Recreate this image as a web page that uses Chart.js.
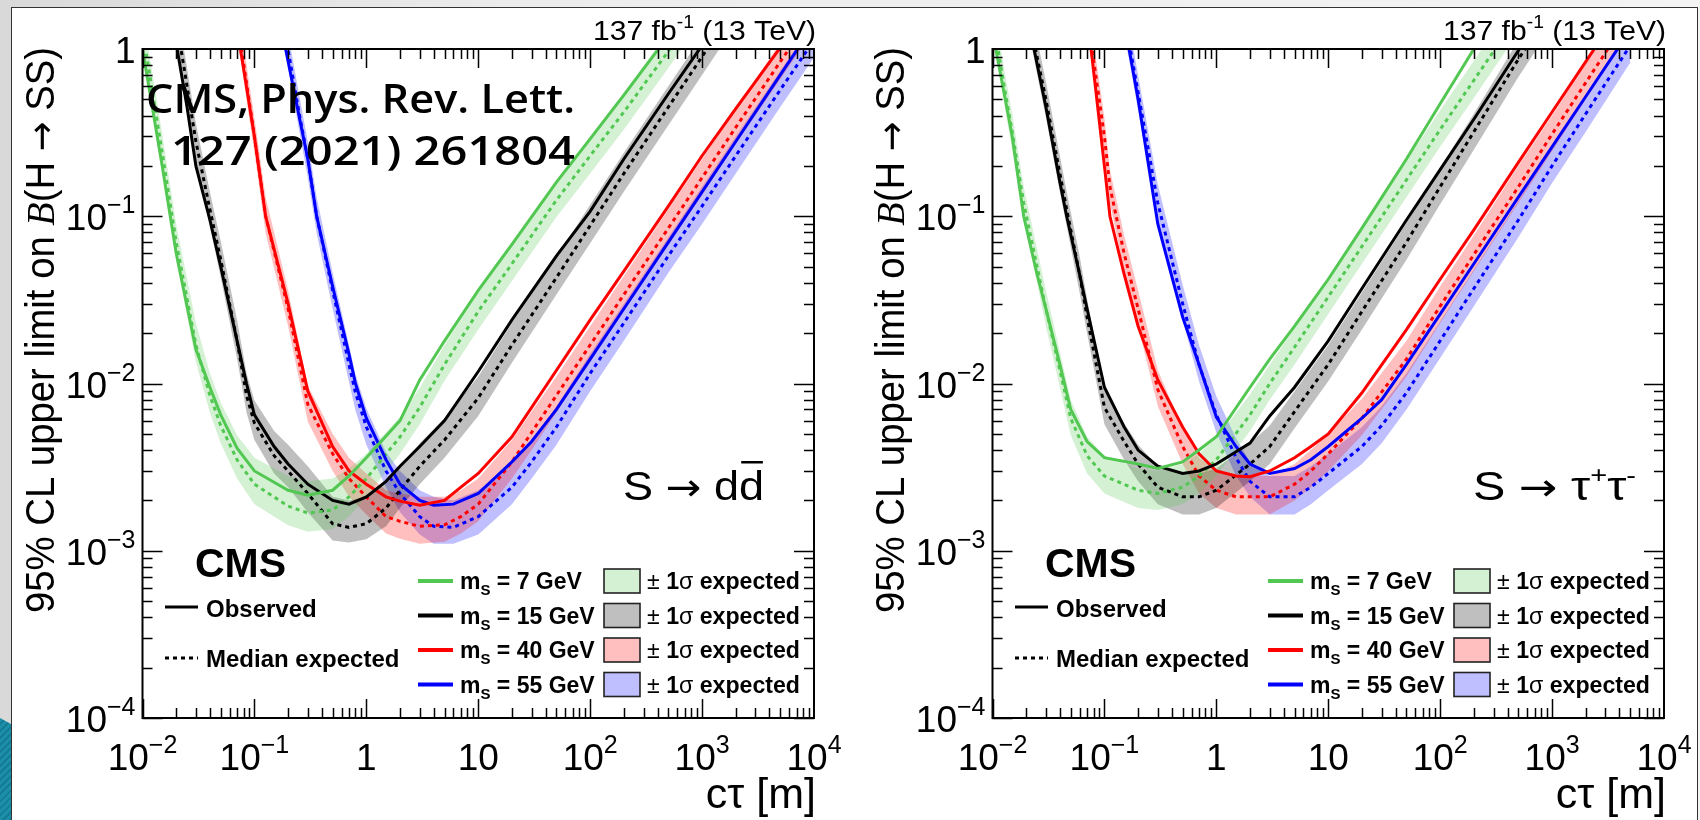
<!DOCTYPE html>
<html>
<head>
<meta charset="utf-8">
<script src="https://cdn.jsdelivr.net/npm/chart.js@4.4.1/dist/chart.umd.min.js"></script>
<style>
  html, body { margin: 0; padding: 0; }
  body { width: 1700px; height: 820px; overflow: hidden; position: relative;
         background: linear-gradient(90deg, #d9d9d9 0%, #ececec 30%, #f4f4f4 100%); }
  #slide { position: absolute; left: 11px; top: 7px; width: 1687px; height: 840px;
           background: #fff; border: 1.5px solid #333; box-sizing: border-box; }
  #deco { position: absolute; left: 0; top: 718px; width: 11px; height: 102px;
          background: repeating-linear-gradient(135deg, #1c8ea8 0 3px, #137b94 3px 5px);
          clip-path: polygon(0 0, 100% 6px, 100% 100%, 0 100%); }
  canvas { position: absolute; top: 0; }
  #left { left: 0; }
  #right { left: 850px; }
</style>
</head>
<body>
<div id="slide"></div>
<div id="deco"></div>
<canvas id="left" width="850" height="820"></canvas>
<canvas id="right" width="850" height="820"></canvas>
<script>
const SANS = '"Liberation Sans", Arial, Helvetica, sans-serif';
const ARROW = '"DejaVu Sans", sans-serif';

// axis ticks
const xTicks = [0.01, 0.1, 1, 10, 100, 1000, 10000];
const xTickText = [['10', '−2'], ['10', '−1'], ['1', ''], ['10', ''], ['10', '2'], ['10', '3'], ['10', '4']];
const yTicks = [1, 0.1, 0.01, 0.001, 0.0001];
const yTickText = [['1', ''], ['10', '−1'], ['10', '−2'], ['10', '−3'], ['10', '−4']];

const masses = ['7', '15', '40', '55'];
const lineColors = ['#52c852', '#000000', '#ff0000', '#0000ff'];
const bandColors = ['rgba(82,200,82,0.25)', 'rgba(0,0,0,0.25)', 'rgba(255,0,0,0.25)', 'rgba(0,0,255,0.25)'];

// rows: [c*tau (m), observed, median expected, -1 sigma, +1 sigma]
// S -> d dbar
const dd_m7 = [
  [0.01, 1.0, 1.3, 1.0, 1.7], [0.015, 0.2, 0.24, 0.19, 0.31], [0.02, 0.06, 0.07, 0.055, 0.09],
  [0.03, 0.016, 0.017, 0.0135, 0.023], [0.04, 0.0095, 0.0085, 0.0067, 0.0115],
  [0.05, 0.0065, 0.0056, 0.0044, 0.0077], [0.07, 0.0041, 0.0035, 0.0027, 0.0049],
  [0.1, 0.003, 0.0025, 0.0019, 0.0036], [0.2, 0.0023, 0.00185, 0.00142, 0.0028],
  [0.3, 0.00215, 0.00168, 0.0013, 0.0026], [0.5, 0.0023, 0.00175, 0.00135, 0.0027],
  [0.7, 0.0028, 0.0021, 0.0016, 0.0031], [1, 0.0036, 0.0027, 0.0021, 0.0038],
  [2, 0.006, 0.0048, 0.0038, 0.0063], [3, 0.0105, 0.0072, 0.0057, 0.0094],
  [5, 0.018, 0.013, 0.0104, 0.017], [10, 0.036, 0.027, 0.021, 0.035],
  [20, 0.068, 0.052, 0.041, 0.067], [50, 0.16, 0.125, 0.099, 0.162],
  [100, 0.29, 0.23, 0.18, 0.3], [200, 0.53, 0.42, 0.33, 0.55],
  [500, 1.2, 0.97, 0.77, 1.26], [1000, 2.3, 1.9, 1.5, 2.5]
];
const dd_m15 = [
  [0.02, 1.08, 1.5, 1.2, 1.9], [0.025, 0.45, 0.6, 0.48, 0.77], [0.03, 0.2, 0.28, 0.22, 0.36],
  [0.04, 0.095, 0.11, 0.087, 0.14], [0.05, 0.05, 0.055, 0.043, 0.071],
  [0.07, 0.018, 0.018, 0.014, 0.024], [0.085, 0.01, 0.0085, 0.0067, 0.0115],
  [0.1, 0.0065, 0.0058, 0.0046, 0.0079], [0.15, 0.0042, 0.0037, 0.0029, 0.0052],
  [0.2, 0.0033, 0.003, 0.0024, 0.0043], [0.3, 0.0025, 0.0022, 0.0017, 0.0032],
  [0.5, 0.002, 0.00145, 0.00115, 0.0021], [0.7, 0.0019, 0.00138, 0.00112, 0.002],
  [1, 0.0021, 0.00145, 0.00117, 0.0021], [1.5, 0.0026, 0.0018, 0.0014, 0.0026],
  [2, 0.0032, 0.0023, 0.0018, 0.0032], [3, 0.0042, 0.0032, 0.0025, 0.0044],
  [5, 0.006, 0.0046, 0.0036, 0.0062], [10, 0.0118, 0.0082, 0.0064, 0.011],
  [20, 0.024, 0.017, 0.0133, 0.023], [50, 0.058, 0.043, 0.034, 0.057],
  [100, 0.107, 0.088, 0.069, 0.117], [200, 0.22, 0.18, 0.14, 0.24],
  [500, 0.54, 0.45, 0.35, 0.6], [1000, 1.05, 0.9, 0.7, 1.2], [2000, 2.1, 1.8, 1.4, 2.4]
];
const dd_m40 = [
  [0.07, 1.3, 1.4, 1.1, 1.8], [0.075, 1.0, 1.1, 0.87, 1.4], [0.1, 0.3, 0.3, 0.24, 0.39],
  [0.126, 0.1, 0.1, 0.079, 0.13], [0.2, 0.03, 0.028, 0.022, 0.036],
  [0.3, 0.009, 0.0075, 0.0059, 0.0097], [0.5, 0.0042, 0.0038, 0.003, 0.005],
  [0.7, 0.003, 0.0027, 0.0021, 0.0036], [1, 0.0025, 0.0021, 0.00165, 0.0029],
  [1.5, 0.0021, 0.0016, 0.00127, 0.0023], [2, 0.00198, 0.0015, 0.00118, 0.0022],
  [3, 0.00187, 0.0014, 0.0011, 0.0021], [5, 0.002, 0.00143, 0.00113, 0.0021],
  [7, 0.0024, 0.0016, 0.00127, 0.0023], [10, 0.0029, 0.0019, 0.0015, 0.0027],
  [20, 0.0048, 0.0034, 0.0027, 0.0046], [30, 0.0072, 0.0051, 0.004, 0.0068],
  [50, 0.012, 0.0085, 0.0067, 0.011], [100, 0.024, 0.017, 0.0134, 0.022],
  [200, 0.047, 0.034, 0.027, 0.044], [500, 0.115, 0.085, 0.067, 0.11],
  [1000, 0.23, 0.17, 0.134, 0.22], [2000, 0.44, 0.34, 0.27, 0.44],
  [5000, 1.02, 0.84, 0.66, 1.09], [10000, 2.0, 1.65, 1.3, 2.15]
];
const dd_m55 = [
  [0.18, 1.3, 1.5, 1.2, 1.9], [0.19, 1.0, 1.2, 0.95, 1.5], [0.25, 0.4, 0.42, 0.33, 0.54],
  [0.3, 0.22, 0.22, 0.17, 0.28], [0.36, 0.1, 0.1, 0.079, 0.13],
  [0.5, 0.038, 0.036, 0.028, 0.046], [0.7, 0.015, 0.013, 0.0102, 0.017],
  [0.8, 0.01, 0.0088, 0.0069, 0.0113], [1, 0.0062, 0.0055, 0.0043, 0.0071],
  [1.5, 0.0035, 0.003, 0.0024, 0.0039], [2, 0.0025, 0.0022, 0.0017, 0.003],
  [3, 0.002, 0.0016, 0.00125, 0.0023], [4, 0.00187, 0.0014, 0.0011, 0.0021],
  [6, 0.0019, 0.00138, 0.0011, 0.002], [10, 0.0022, 0.0016, 0.00125, 0.0023],
  [20, 0.0034, 0.0024, 0.0019, 0.0033], [30, 0.0045, 0.0034, 0.0027, 0.0046],
  [50, 0.007, 0.0055, 0.0043, 0.0073], [100, 0.014, 0.0115, 0.009, 0.015],
  [200, 0.028, 0.023, 0.018, 0.03], [500, 0.07, 0.058, 0.046, 0.075],
  [1000, 0.14, 0.115, 0.09, 0.15], [2000, 0.28, 0.23, 0.18, 0.3],
  [5000, 0.7, 0.57, 0.45, 0.74], [10000, 1.4, 1.13, 0.89, 1.47]
];

// S -> tau+ tau-
const tt_m7 = [
  [0.01, 1.3, 1.5, 1.2, 1.9], [0.0107, 1.0, 1.2, 0.95, 1.5], [0.013, 0.5, 0.55, 0.43, 0.7],
  [0.015, 0.3, 0.32, 0.25, 0.41], [0.019, 0.1, 0.12, 0.095, 0.15],
  [0.025, 0.045, 0.05, 0.04, 0.064], [0.03, 0.028, 0.028, 0.022, 0.036],
  [0.04, 0.013, 0.012, 0.0095, 0.0155], [0.05, 0.007, 0.0062, 0.0049, 0.008],
  [0.07, 0.0045, 0.0037, 0.0029, 0.0048], [0.1, 0.0036, 0.0028, 0.0022, 0.0037],
  [0.2, 0.0033, 0.0023, 0.0018, 0.0031], [0.3, 0.0031, 0.0022, 0.00175, 0.003],
  [0.5, 0.0034, 0.0024, 0.0019, 0.0033], [0.7, 0.004, 0.0028, 0.0022, 0.0038],
  [1, 0.0048, 0.0035, 0.0028, 0.0047], [2, 0.0095, 0.0065, 0.0052, 0.0086],
  [3, 0.014, 0.01, 0.008, 0.013], [5, 0.022, 0.0165, 0.013, 0.0215],
  [10, 0.042, 0.033, 0.026, 0.043], [20, 0.085, 0.066, 0.052, 0.086],
  [50, 0.22, 0.165, 0.13, 0.215], [100, 0.47, 0.33, 0.26, 0.43],
  [200, 1.0, 0.65, 0.51, 0.85], [500, 2.5, 1.6, 1.26, 2.1]
];
const tt_m15 = [
  [0.022, 1.3, 1.4, 1.1, 1.8], [0.0235, 1.0, 1.1, 0.87, 1.4], [0.03, 0.45, 0.5, 0.39, 0.64],
  [0.04, 0.16, 0.18, 0.14, 0.23], [0.046, 0.1, 0.11, 0.087, 0.14],
  [0.06, 0.045, 0.045, 0.035, 0.058], [0.07, 0.028, 0.025, 0.02, 0.032],
  [0.1, 0.0095, 0.0072, 0.0057, 0.0093], [0.15, 0.0055, 0.0045, 0.0035, 0.0058],
  [0.2, 0.004, 0.0033, 0.0026, 0.0043], [0.3, 0.0032, 0.0024, 0.0019, 0.0032],
  [0.5, 0.0029, 0.0021, 0.00165, 0.0029], [0.7, 0.003, 0.0021, 0.00165, 0.0029],
  [1, 0.0033, 0.0023, 0.0018, 0.0031], [2, 0.0044, 0.0033, 0.0026, 0.0044],
  [3, 0.0064, 0.0042, 0.0033, 0.0056], [5, 0.0095, 0.0068, 0.0054, 0.009],
  [10, 0.018, 0.013, 0.0103, 0.017], [20, 0.037, 0.027, 0.021, 0.035],
  [50, 0.095, 0.07, 0.055, 0.091], [100, 0.19, 0.15, 0.118, 0.195],
  [200, 0.38, 0.32, 0.25, 0.41], [500, 0.98, 0.87, 0.68, 1.13], [1000, 2.0, 1.75, 1.38, 2.3]
];
const tt_m40 = [
  [0.07, 1.4, 1.5, 1.2, 1.9], [0.076, 1.0, 1.1, 0.87, 1.4], [0.1, 0.2, 0.3, 0.24, 0.39],
  [0.112, 0.1, 0.15, 0.12, 0.19], [0.15, 0.045, 0.06, 0.047, 0.077],
  [0.2, 0.022, 0.028, 0.022, 0.036], [0.3, 0.0105, 0.0092, 0.0073, 0.012],
  [0.5, 0.0055, 0.0042, 0.0033, 0.0054], [0.7, 0.0038, 0.0028, 0.0022, 0.0036],
  [1, 0.003, 0.0023, 0.0018, 0.003], [1.5, 0.0028, 0.0021, 0.00165, 0.0028],
  [2, 0.00277, 0.0021, 0.00165, 0.0028], [3, 0.003, 0.0021, 0.00165, 0.0028],
  [5, 0.0036, 0.0025, 0.002, 0.0033], [7, 0.0042, 0.003, 0.0024, 0.004],
  [10, 0.005, 0.0038, 0.003, 0.005], [20, 0.0088, 0.0062, 0.0049, 0.0081],
  [50, 0.021, 0.014, 0.011, 0.018], [100, 0.042, 0.029, 0.023, 0.038],
  [200, 0.083, 0.059, 0.047, 0.077], [500, 0.21, 0.15, 0.12, 0.2],
  [1000, 0.42, 0.31, 0.245, 0.4], [2000, 0.84, 0.63, 0.5, 0.82], [5000, 2.1, 1.6, 1.26, 2.1]
];
const tt_m55 = [
  [0.15, 1.4, 1.5, 1.2, 1.9], [0.166, 1.0, 1.1, 0.87, 1.4], [0.2, 0.5, 0.55, 0.43, 0.7],
  [0.3, 0.09, 0.12, 0.095, 0.155], [0.5, 0.025, 0.03, 0.024, 0.039],
  [0.7, 0.013, 0.013, 0.0103, 0.017], [1, 0.0063, 0.0065, 0.0051, 0.0084],
  [1.5, 0.0042, 0.0036, 0.0028, 0.0047], [2, 0.0033, 0.0026, 0.0021, 0.0034],
  [3, 0.0029, 0.0021, 0.00165, 0.0028], [5, 0.0031, 0.0021, 0.00165, 0.0028],
  [7, 0.0035, 0.0024, 0.0019, 0.0032], [10, 0.0042, 0.0029, 0.0023, 0.0038],
  [20, 0.0062, 0.0042, 0.0033, 0.0055], [30, 0.008, 0.0056, 0.0044, 0.0073],
  [50, 0.013, 0.0088, 0.007, 0.0115], [100, 0.026, 0.018, 0.0142, 0.0235],
  [200, 0.052, 0.037, 0.029, 0.048], [500, 0.13, 0.095, 0.075, 0.124],
  [1000, 0.26, 0.2, 0.158, 0.26], [2000, 0.52, 0.41, 0.32, 0.53], [5000, 1.3, 1.05, 0.83, 1.37]
];

// draw a row of text pieces (for superscripts / subscripts), optionally squeezed to a width
function runsWidth(ctx, runs) {
  let w = 0;
  for (const r of runs) { ctx.font = r.font; w += ctx.measureText(r.text).width; }
  return w;
}
function drawRuns(ctx, runs, x, y, align, fitWidth) {
  const w = runsWidth(ctx, runs);
  const s = fitWidth ? fitWidth / w : 1;
  let x0 = x;
  if (align === 'right') x0 = x - w * s;
  else if (align === 'center') x0 = x - w * s / 2;
  ctx.save();
  ctx.translate(x0, y);
  ctx.scale(s, 1);
  ctx.textAlign = 'left';
  ctx.textBaseline = 'alphabetic';
  let cx = 0;
  for (const r of runs) {
    ctx.font = r.font;
    ctx.fillStyle = '#000';
    ctx.fillText(r.text, cx, r.dy || 0);
    const tw = ctx.measureText(r.text).width;
    if (r.over) ctx.fillRect(cx + 2, r.over, tw - 3, 2.5);
    cx += tw;
  }
  ctx.restore();
}

const rootFrame = {
  id: 'rootFrame',
  afterDraw(chart, args, opts) {
    const ctx = chart.ctx, a = chart.chartArea;
    const xs = chart.scales.x, ys = chart.scales.y;
    ctx.save();

    // ticks on all four sides
    ctx.strokeStyle = '#000';
    ctx.lineWidth = 1.5;
    ctx.beginPath();
    for (let e = -2; e < 4; e++) {
      for (let k = 1; k <= 9; k++) {
        const px = Math.round(xs.getPixelForValue(k * Math.pow(10, e))) + 0.5;
        const len = k === 1 ? 19 : 10;
        ctx.moveTo(px, a.bottom); ctx.lineTo(px, a.bottom - len);
        ctx.moveTo(px, a.top); ctx.lineTo(px, a.top + len);
      }
    }
    for (let e = -4; e < 0; e++) {
      for (let k = 1; k <= 9; k++) {
        const py = Math.round(ys.getPixelForValue(k * Math.pow(10, e))) + 0.5;
        const len = k === 1 ? 20 : 10;
        ctx.moveTo(a.left, py); ctx.lineTo(a.left + len, py);
        ctx.moveTo(a.right, py); ctx.lineTo(a.right - len, py);
      }
    }
    ctx.stroke();
    ctx.lineWidth = 2;
    ctx.strokeRect(a.left, a.top, a.right - a.left, a.bottom - a.top);

    // tick labels
    xTicks.forEach((v, i) => {
      const [base, sup] = xTickText[i];
      const runs = [{ text: base, font: `37px ${SANS}` }];
      if (sup) runs.push({ text: sup, font: `25px ${SANS}`, dy: -17 });
      drawRuns(ctx, runs, xs.getPixelForValue(v), a.bottom + 52, 'center');
    });
    yTicks.forEach((v, i) => {
      const [base, sup] = yTickText[i];
      const runs = [{ text: base, font: `37px ${SANS}` }];
      if (sup) runs.push({ text: sup, font: `25px ${SANS}`, dy: -17 });
      drawRuns(ctx, runs, a.left - 7, ys.getPixelForValue(v) + 14, 'right');
    });

    // axis titles
    drawRuns(ctx, [{ text: 'cτ [m]', font: `43px ${SANS}` }], a.right + 2, 808, 'right');
    ctx.save();
    ctx.translate(54, 613);
    ctx.rotate(-Math.PI / 2);
    drawRuns(ctx, [
      { text: '95% CL upper limit on ', font: `41px ${SANS}` },
      { text: 'B', font: 'italic 41px "Liberation Serif", serif' },
      { text: '(H ', font: `41px ${SANS}` },
      { text: '→', font: `38px ${ARROW}` },
      { text: ' SS)', font: `41px ${SANS}` }
    ], 0, 0, 'left', 566);
    ctx.restore();

    drawRuns(ctx, [
      { text: '137 fb', font: `28px ${SANS}` },
      { text: '-1', font: `18px ${SANS}`, dy: -12 },
      { text: ' (13 TeV)', font: `28px ${SANS}` }
    ], a.right + 2, 40, 'right', 223);

    // decay channel
    drawRuns(ctx, opts.channel, 623, 500, 'left', opts.channelWidth);

    // CMS + line-style legend
    drawRuns(ctx, [{ text: 'CMS', font: `bold 41px ${SANS}` }], 195, 577, 'left');
    ctx.lineWidth = 3;
    ctx.strokeStyle = '#000';
    ctx.beginPath(); ctx.moveTo(165, 607); ctx.lineTo(198, 607); ctx.stroke();
    ctx.setLineDash([4, 4]);
    ctx.beginPath(); ctx.moveTo(165, 658); ctx.lineTo(198, 658); ctx.stroke();
    ctx.setLineDash([]);
    drawRuns(ctx, [{ text: 'Observed', font: `bold 24px ${SANS}` }], 206, 617, 'left');
    drawRuns(ctx, [{ text: 'Median expected', font: `bold 24px ${SANS}` }], 206, 667, 'left');

    // mass legend
    masses.forEach((m, i) => {
      const yc = 581 + i * 34.5;
      ctx.lineWidth = 4;
      ctx.strokeStyle = lineColors[i];
      ctx.beginPath(); ctx.moveTo(418, yc); ctx.lineTo(453, yc); ctx.stroke();
      drawRuns(ctx, [
        { text: 'm', font: `bold 23px ${SANS}` },
        { text: 'S', font: `bold 15px ${SANS}`, dy: 6 },
        { text: ` = ${m} GeV`, font: `bold 23px ${SANS}` }
      ], 460, yc + 8, 'left');
      ctx.fillStyle = '#fff';
      ctx.fillRect(604, yc - 12, 36, 24);
      ctx.fillStyle = bandColors[i];
      ctx.fillRect(604, yc - 12, 36, 24);
      ctx.lineWidth = 1.6;
      ctx.strokeStyle = '#222';
      ctx.strokeRect(604, yc - 12, 36, 24);
      drawRuns(ctx, [
        { text: '± ', font: `23px ${SANS}` },
        { text: '1', font: `bold 23px ${SANS}` },
        { text: 'σ ', font: `23px ${SANS}` },
        { text: 'expected', font: `bold 23px ${SANS}` }
      ], 647, yc + 8, 'left', 153);
    });

    if (opts.reference) {
      const f = '600 39px "Open Sans", "Noto Sans", sans-serif';
      drawRuns(ctx, [{ text: 'CMS, Phys. Rev. Lett.', font: f }], 575, 113, 'right', 429);
      drawRuns(ctx, [{ text: '127 (2021) 261804', font: f }], 575, 165, 'right', 404);
    }
    ctx.restore();
  }
};

function buildDatasets(tables) {
  const ds = [];
  tables.forEach((rows, i) => {
    ds.push({ data: rows.map(r => ({ x: r[0], y: r[4] })), fill: '+1', backgroundColor: bandColors[i],
              borderWidth: 0, pointRadius: 0, order: 3 });
    ds.push({ data: rows.map(r => ({ x: r[0], y: r[3] })), fill: false, borderWidth: 0, pointRadius: 0, order: 3 });
  });
  tables.forEach((rows, i) => {
    ds.push({ data: rows.map(r => ({ x: r[0], y: r[2] })), borderColor: lineColors[i], borderWidth: 3,
              borderDash: [4, 4], pointRadius: 0, fill: false, order: 2 });
    ds.push({ data: rows.map(r => ({ x: r[0], y: r[1] })), borderColor: lineColors[i], borderWidth: 3,
              pointRadius: 0, fill: false, order: 1 });
  });
  return ds;
}

function makeChart(id, tables, frameOpts) {
  return new Chart(document.getElementById(id), {
    type: 'line',
    data: { datasets: buildDatasets(tables) },
    options: {
      responsive: false,
      animation: false,
      devicePixelRatio: 1,
      events: [],
      layout: { padding: { left: 142.5, right: 36, top: 49, bottom: 102 } },
      elements: { line: { tension: 0 } },
      scales: {
        x: { type: 'logarithmic', min: 0.01, max: 10000, display: false },
        y: { type: 'logarithmic', min: 0.0001, max: 1, display: false }
      },
      plugins: { legend: { display: false }, tooltip: { enabled: false }, rootFrame: frameOpts }
    },
    plugins: [rootFrame]
  });
}

makeChart('left', [dd_m7, dd_m15, dd_m40, dd_m55], {
  reference: true,
  channelWidth: 141,
  channel: [
    { text: 'S ', font: `40px ${SANS}` },
    { text: '→', font: `38px ${ARROW}` },
    { text: ' d', font: `40px ${SANS}` },
    { text: 'd', font: `40px ${SANS}`, over: -39 }
  ]
});
makeChart('right', [tt_m7, tt_m15, tt_m40, tt_m55], {
  reference: false,
  channelWidth: 163,
  channel: [
    { text: 'S ', font: `40px ${SANS}` },
    { text: '→', font: `38px ${ARROW}` },
    { text: ' τ', font: `40px ${SANS}` },
    { text: '+', font: `24px ${SANS}`, dy: -17 },
    { text: 'τ', font: `40px ${SANS}` },
    { text: '-', font: `24px ${SANS}`, dy: -17 }
  ]
});
</script>
</body>
</html>
